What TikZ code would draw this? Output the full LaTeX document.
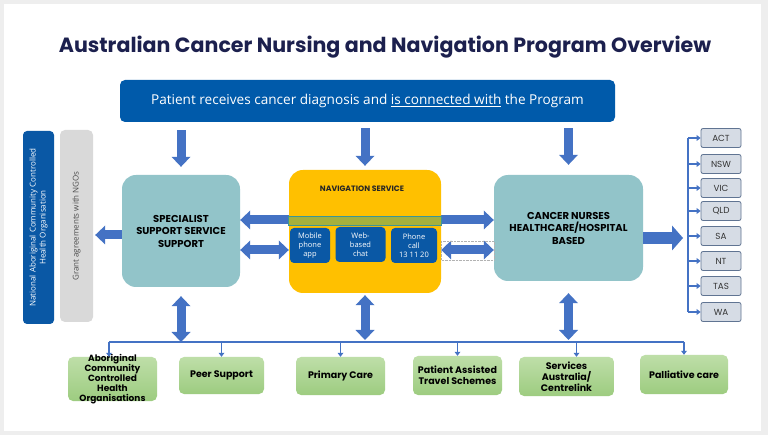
\documentclass[tikz,border=0pt]{standalone}
\usepackage{fontspec}
\setmainfont{Open Sans}
\newfontfamily\headfont{Poppins}
\usetikzlibrary{arrows.meta}
\definecolor{pagegrey}{RGB}{238,238,238}
\definecolor{titlenavy}{RGB}{28,32,78}
\definecolor{bannerblue}{RGB}{0,90,170}
\definecolor{subblue}{RGB}{10,88,165}
\definecolor{arrowblue}{RGB}{68,114,196}
\definecolor{boxteal}{RGB}{146,196,201}
\definecolor{navyellow}{RGB}{255,192,0}
\definecolor{bandolive}{RGB}{166,176,60}
\definecolor{bandedge}{RGB}{60,150,150}
\definecolor{greytab}{RGB}{217,217,217}
\definecolor{statefill}{RGB}{214,220,229}
\definecolor{stateedge}{RGB}{96,116,146}
\definecolor{greentop}{RGB}{190,222,168}
\definecolor{greenbot}{RGB}{157,204,128}

\begin{document}
\begin{tikzpicture}[x=1pt,y=-1pt,
  tealbox/.style={fill=boxteal, rounded corners=14pt, align=center,
    font=\headfont\bfseries\fontsize{10}{12.5}\selectfont},
  subbox/.style={fill=subblue, rounded corners=4pt, text=white, align=center,
    inner sep=1pt, font=\fontsize{7.5}{9}\selectfont},
  statebox/.style={fill=statefill, draw=stateedge, line width=0.8pt, rounded corners=2pt,
    minimum width=40pt, minimum height=19pt, text=black!80,
    font=\headfont\fontsize{8.8}{10}\selectfont},
  greenbox/.style={top color=greentop, bottom color=greenbot, rounded corners=5pt,
    align=center, font=\headfont\bfseries\fontsize{9.5}{11}\selectfont},
  blk/.style={draw=arrowblue, line width=9pt,
    -{Triangle[width=19pt,length=10pt,line width=0pt]}},
  dblk/.style={draw=arrowblue, line width=9pt,
    {Triangle[width=19pt,length=10pt,line width=0pt]}-{Triangle[width=19pt,length=10pt,line width=0pt]}},
  thinline/.style={draw=arrowblue, line width=1.8pt},
  thinarrow/.style={thinline, -{Triangle[width=6pt,length=4pt,line width=0pt]}}]
% outline
\fill[pagegrey] (0,0) rectangle (768,435);
\fill[white] (4,4) rectangle (761,431);
\useasboundingbox (0,0) rectangle (768,435);

\node[text=titlenavy, font=\headfont\bfseries\fontsize{20.6}{24}\selectfont] (title) at (385,47)
  {Australian Cancer Nursing and Navigation Program Overview};
\node[fill=bannerblue, rounded corners=5pt, minimum width=495pt, minimum height=42pt,
  text=white, font=\fontsize{13.6}{16}\selectfont] (banner) at (367.5,101)
  {Patient receives cancer diagnosis and \underline{is connected with} the Program};

% three services
\node[tealbox, minimum width=118pt, minimum height=112pt] (spec) at (181,231)
  {SPECIALIST\\SUPPORT SERVICE\\SUPPORT};
\node[tealbox, minimum width=149pt, minimum height=106pt] (nurse) at (568.5,228)
  {CANCER NURSES\\HEALTHCARE/HOSPITAL\\BASED};

% arrows across
\draw[dblk] ([yshift=11pt]spec.east) -- ([yshift=8pt]nurse.west);
\node[fill=navyellow, rounded corners=14pt, minimum width=152pt, minimum height=123pt] (nav)
  at (365,231.5) {};
\fill[bandolive, draw=bandedge, line width=0.8pt] (nav.west |- 0,216) rectangle (nav.east |- 0,225);
\node[font=\headfont\bfseries\fontsize{7.8}{9}\selectfont, text=black!85] (navtitle) at (362,189)
  {NAVIGATION SERVICE};
\node[subbox, minimum width=40pt, minimum height=35pt] (mobile) at (310,245.5)
  {Mobile\\phone\\app};
\node[subbox, minimum width=50pt, minimum height=35pt] (web) at (360.5,244.5)
  {Web-\\based\\chat};
\node[subbox, minimum width=46pt, minimum height=35pt] (phone) at (414,245.5)
  {Phone\\call\\13 11 20};
\draw[dblk] ([yshift=-19pt]spec.east) -- ([yshift=-19pt]spec.east -| nav.west);
\draw[dblk] ([yshift=-22pt]nurse.west -| nav.east) -- ([yshift=-22pt]nurse.west);
\draw[black!30, densely dotted] (nav.east |- 0,241) rectangle (nurse.west |- 0,260);

% down from the banner
\draw[blk] ([yshift=-8pt]banner.south -| spec.north) -- ([yshift=8pt]spec.north);
\draw[blk] ([yshift=-6pt]banner.south -| nav.north) -- ([yshift=4pt]nav.north);
\draw[blk] ([yshift=-6pt]banner.south -| nurse.north) -- ([yshift=10pt]nurse.north);

% left side
\node[fill=subblue, rounded corners=4pt, minimum width=193pt, minimum height=31pt, rotate=90,
  text=white, align=center, font=\fontsize{8}{10}\selectfont] (naccho) at (38.5,227.5)
  {National Aboriginal Community Controlled\\Health Organisation};
\node[fill=greytab, rounded corners=5pt, minimum width=192pt, minimum height=33pt, rotate=90,
  text=black!70, font=\fontsize{8}{9}\selectfont] (grant) at (76.5,226)
  {Grant agreements with NGOs};
\draw[blk, shorten >=2pt] ([yshift=-4pt]spec.west) -- ([yshift=-4pt]spec.west -| grant.south);

% states
\coordinate (stbus) at (688,225);
\draw[blk, line width=12pt, -{Triangle[width=25pt,length=11pt,line width=0pt]}, shorten >=5pt]
  ([yshift=-10pt]nurse.east) -- ([yshift=-10pt]nurse.east -| stbus);
\foreach \st/\yy in {ACT/138,NSW/164,VIC/188,QLD/211,SA/236,NT/261,TAS/286,WA/312}
{
  \node[statebox] (\st) at (721,\yy) {\st};
  \draw[thinarrow] (stbus |- \st.west) -- (\st.west);
}
\draw[thinline] (stbus |- ACT.west) -- (stbus |- WA.west);

% bottom row
\node[greenbox, minimum width=89pt, minimum height=44pt] (acch) at (112.5,379) {};
\node[font=\headfont\bfseries\fontsize{9}{10}\selectfont, align=center] (acchtext) at (acch)
  {Aboriginal\\Community\\Controlled\\Health\\Organisations};
\node[greenbox, minimum width=85pt, minimum height=37pt] (peer) at (221.5,375.5) {Peer Support};
\node[greenbox, minimum width=89pt, minimum height=38pt] (prim) at (340.5,376) {Primary Care};
\node[greenbox, minimum width=89pt, minimum height=39pt] (pats) at (457.5,375.5)
  {Patient Assisted\\Travel Schemes};
\node[greenbox, minimum width=95pt, minimum height=39pt] (servs) at (566.5,376.5)
  {Services\\Australia/\\Centrelink};
\node[greenbox, minimum width=88pt, minimum height=39pt] (pall) at (684,374.5) {Palliative care};

\coordinate (busl) at (109,342);
\draw[thinline] (busl) -- (busl -| pall.north);
\draw[thinarrow] (busl) -- (busl |- acch.north);
\draw[thinarrow] (busl -| peer.north) -- (peer.north);
\draw[thinarrow] (busl -| prim.north) -- (prim.north);
\draw[thinarrow] (busl -| pats.north) -- (pats.north);
\draw[thinarrow] ([xshift=10pt]busl -| servs.north) -- ([xshift=10pt]servs.north);
\draw[thinarrow] (busl -| pall.north) -- (pall.north);

\draw[dblk] ([yshift=-9pt]spec.south) -- (spec.south |- busl);
\draw[dblk] ([yshift=-2pt]nav.south) -- ([yshift=2pt]nav.south |- busl);
\draw[dblk] ([yshift=-12pt]nurse.south) -- ([yshift=2pt]nurse.south |- busl);
\end{tikzpicture}
\end{document}
